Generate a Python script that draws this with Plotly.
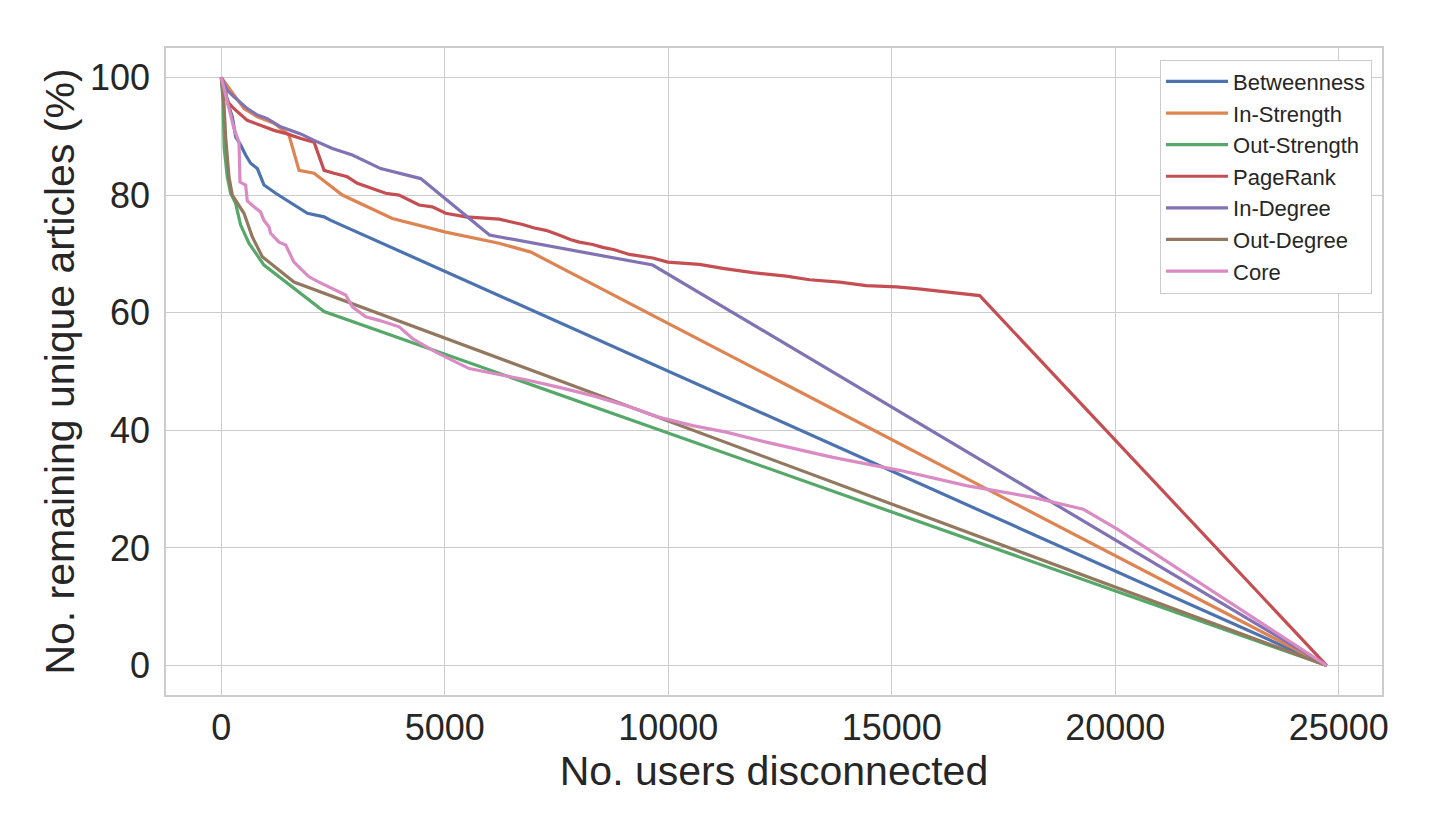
import plotly.graph_objects as go

X_END = 24730

# Betweenness
betweenness_x = [0, 90, 150, 247, 322, 434, 545, 657, 807, 956, 1217, 1404, 1628, 1927, 2300, 2450, X_END]
betweenness_y = [100, 97.8, 95.5, 93.3, 89.9, 88.5, 86.8, 85.4, 84.5, 81.7, 80.3, 79.4, 78.3, 76.9, 76.3, 75.7, 0]

# In-Strength
instrength_x = [0, 120, 284, 508, 807, 1180, 1441, 1514, 1740, 2076, 2708, 3827, 5021, 6214, 6927, X_END]
instrength_y = [100, 98.7, 97.0, 94.7, 93.3, 92.2, 90.7, 90.2, 84.2, 83.7, 80.0, 76.0, 73.7, 71.8, 70.3, 0]

# Out-Strength
outstrength_x = [0, 40, 65, 134, 209, 321, 433, 619, 955, 1589, 2300, X_END]
outstrength_y = [100, 96.0, 88.0, 83.1, 80.3, 78.6, 74.9, 71.8, 68.1, 64.4, 60.2, 0]

# PageRank
pagerank_x = [0, 98, 172, 284, 582, 881, 1180, 1478, 1777, 2076, 2300, 2524, 2820, 3044, 3380,
              3678, 3976, 4200, 4424, 4722, 5021, 5468, 6000, 6218, 6442, 6741, 7002, 7263, 7525,
              7823, 8010, 8309, 8533, 8794, 9130, 9652, 9988, 10697, 11257, 11891, 12638, 13161,
              13833, 14428, 15102, 15548, 16966, X_END]
pagerank_y = [100, 97.0, 95.6, 94.7, 92.7, 91.9, 91.0, 90.4, 89.6, 89.0, 84.2, 83.7, 83.1, 82.0, 81.1,
              80.3, 80.0, 79.1, 78.3, 78.0, 76.9, 76.3, 76.0, 75.9, 75.5, 75.0, 74.4, 74.0, 73.3,
              72.4, 72.0, 71.6, 71.1, 70.7, 69.9, 69.3, 68.6, 68.2, 67.5, 66.8, 66.2, 65.6,
              65.2, 64.6, 64.4, 64.1, 62.9, 0]

# In-Degree
indegree_x = [0, 135, 284, 582, 807, 1031, 1329, 1553, 1777, 2076, 2486, 2932, 3566, 4461, 6000, 9652, X_END]
indegree_y = [100, 97.8, 96.7, 94.7, 93.6, 93.0, 91.6, 91.0, 90.4, 89.3, 87.9, 86.8, 84.5, 82.8, 73.2, 68.1, 0]

# Out-Degree
outdegree_x = [0, 60, 98, 135, 172, 247, 359, 508, 694, 918, 1626, X_END]
outdegree_y = [100, 95.6, 89.9, 86.5, 83.1, 80.0, 78.6, 76.9, 72.9, 69.5, 65.2, 0]

# Core
core_x = [0, 60, 172, 284, 396, 419, 545, 582, 731, 880, 955, 1067, 1104, 1291, 1440, 1626, 1813,
          1962, 2186, 2559, 2783, 2932, 3230, 3529, 3979, 4277, 4800, 5173, 5546, 6069, 6815, 7562,
          8308, 9054, 9801, 10547, 11294, 12189, 13682, 15175, 16668, 18160, 19280, 20026, X_END]
core_y = [100, 98.1, 95.1, 91.3, 89.0, 82.2, 81.7, 79.0, 78.0, 77.1, 75.7, 74.6, 73.5, 72.0, 71.5, 68.6, 67.2,
          66.1, 65.2, 63.8, 63.0, 61.0, 59.3, 58.7, 57.6, 55.6, 53.3, 51.9, 50.5, 49.7, 48.6, 47.3,
          45.9, 44.2, 42.2, 40.8, 39.7, 38.0, 35.4, 33.2, 30.6, 28.6, 26.6, 23.3, 0]

names = ["Betweenness", "In-Strength", "Out-Strength", "PageRank", "In-Degree", "Out-Degree", "Core"]
colors = ["#4C72B0", "#DD8452", "#55A868", "#C44E52", "#8172B3", "#937860", "#DA8BC3"]
series = [(betweenness_x, betweenness_y), (instrength_x, instrength_y), (outstrength_x, outstrength_y),
          (pagerank_x, pagerank_y), (indegree_x, indegree_y), (outdegree_x, outdegree_y), (core_x, core_y)]

x_ticks = [0, 5000, 10000, 15000, 20000, 25000]
x_tick_labels = ["0", "5000", "10000", "15000", "20000", "25000"]
y_ticks = [0, 20, 40, 60, 80, 100]
y_tick_labels = ["0", "20", "40", "60", "80", "100"]

FONT = "Liberation Sans, Arial, sans-serif"
fig = go.Figure()
for name, color, (xs, ys) in zip(names, colors, series):
    fig.add_trace(go.Scatter(x=xs, y=ys, mode="lines", name=name, legendgroup=name,
                             line=dict(color=color, width=3.2)))

xmin, xmax = 0, X_END
pad = 0.05 * (xmax - xmin)
fig.update_layout(
    width=1440, height=831,
    margin=dict(l=158, r=66, t=40, b=144),
    paper_bgcolor="white", plot_bgcolor="white",
    font=dict(family=FONT, color="#262626"),
    xaxis=dict(range=[xmin - pad, xmax + pad], tickvals=x_ticks, ticktext=x_tick_labels,
               showgrid=True, gridcolor="#cccccc",
               gridwidth=1.3, zeroline=False, showline=True, linecolor="#cccccc", linewidth=1.5,
               mirror=True, ticks="", tickfont=dict(size=36), ticklabelstandoff=0,
               title=dict(text="No. users disconnected", font=dict(size=41), standoff=0)),
    yaxis=dict(range=[-5, 105], tickvals=y_ticks, ticktext=y_tick_labels,
               showgrid=True, gridcolor="#cccccc",
               gridwidth=1.3, zeroline=False, showline=True, linecolor="#cccccc", linewidth=1.5,
               mirror=True, ticks="", tickfont=dict(size=36), ticklabelstandoff=7,
               title=dict(text="No. remaining unique articles (%)", font=dict(size=41), standoff=3)),
    legend=dict(x=0.9918, y=0.982, xanchor="right", yanchor="top", bgcolor="white",
                bordercolor="#cccccc", borderwidth=1, font=dict(size=22, color="#262626"),
                tracegroupgap=2, traceorder="normal", itemwidth=62),
    showlegend=True,
)
fig.write_html("out.html")
